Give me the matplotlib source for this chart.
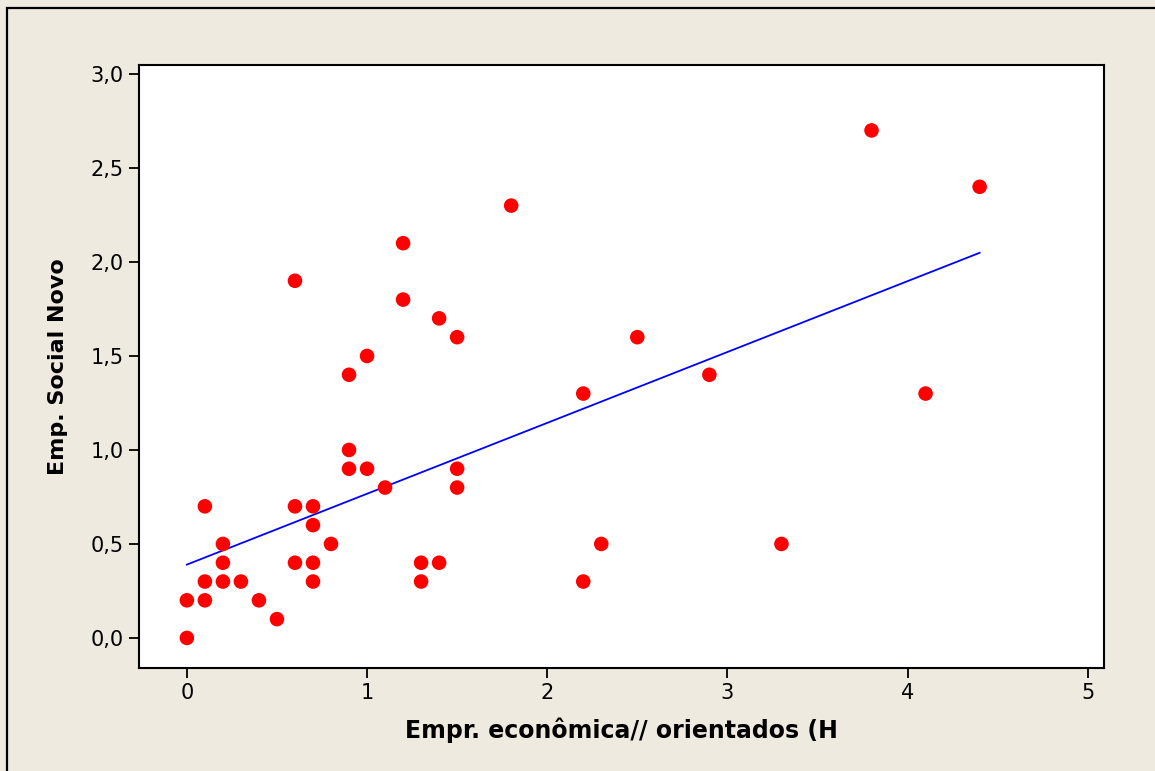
import numpy as np
import matplotlib
matplotlib.use("Agg")
import matplotlib.pyplot as plt
from matplotlib.patches import Rectangle

# Empreendedorismo econômico vs. social (valores por observação)
econ = [0.0, 0.0, 0.1, 0.1, 0.1, 0.2, 0.2, 0.2, 0.3, 0.4, 0.5,
        0.6, 0.6, 0.6, 0.7, 0.7, 0.7, 0.7, 0.8, 0.9, 0.9, 0.9,
        1.0, 1.0, 1.1, 1.2, 1.2, 1.3, 1.3, 1.4, 1.4, 1.5, 1.5, 1.5,
        1.8, 2.2, 2.2, 2.3, 2.5, 2.9, 3.3, 3.8, 4.1, 4.4]
social = [0.2, 0.0, 0.7, 0.3, 0.2, 0.5, 0.4, 0.3, 0.3, 0.2, 0.1,
          1.9, 0.7, 0.4, 0.7, 0.6, 0.4, 0.3, 0.5, 1.4, 1.0, 0.9,
          1.5, 0.9, 0.8, 2.1, 1.8, 0.4, 0.3, 1.7, 0.4, 1.6, 0.9, 0.8,
          2.3, 1.3, 0.3, 0.5, 1.6, 1.4, 0.5, 2.7, 1.3, 2.4]

# reta ajustada (coeficientes da regressão)
fit_intercept = 0.39
fit_slope = 0.377

xticks = [0, 1, 2, 3, 4, 5]
yticks = [0.0, 0.5, 1.0, 1.5, 2.0, 2.5, 3.0]

bg = "#EEEAE0"
plt.rcParams["font.family"] = ["DejaVu Sans"]

fig = plt.figure(figsize=(11.55, 7.71), dpi=100, facecolor=bg)
fig.patches.append(Rectangle((7 / 1155, -0.1), 1.2, (763 / 771) + 0.1,
                             transform=fig.transFigure, fill=False,
                             edgecolor="black", linewidth=1.6))

ax = fig.add_axes([0.1203, 0.1336, 0.8355, 0.7821])
ax.set_facecolor("white")

ax.scatter(econ, social, s=110, color="#FF0000", edgecolors="none", zorder=3)

xs = np.array([min(econ), max(econ)])
ax.plot(xs, fit_intercept + fit_slope * xs, color="#0000FF", linewidth=1.3, zorder=2)

ax.set_xlim(-0.266, 5.09)
ax.set_ylim(-0.16, 3.048)
ax.set_xticks(xticks)
ax.set_xticklabels([str(t) for t in xticks])
ax.set_yticks(yticks)
ax.set_yticklabels([f"{t:.1f}".replace(".", ",") for t in yticks])

for s in ax.spines.values():
    s.set_linewidth(1.5)
ax.tick_params(direction="out", length=7, width=1.3, labelsize=15, pad=4)

ax.set_xlabel("Empr. econômica// orientados (H", fontsize=17, fontweight="bold", labelpad=10)
ax.set_ylabel("Emp. Social Novo", fontsize=16, fontweight="bold", labelpad=16)

fig.savefig("out.png", dpi=100, facecolor=bg)
